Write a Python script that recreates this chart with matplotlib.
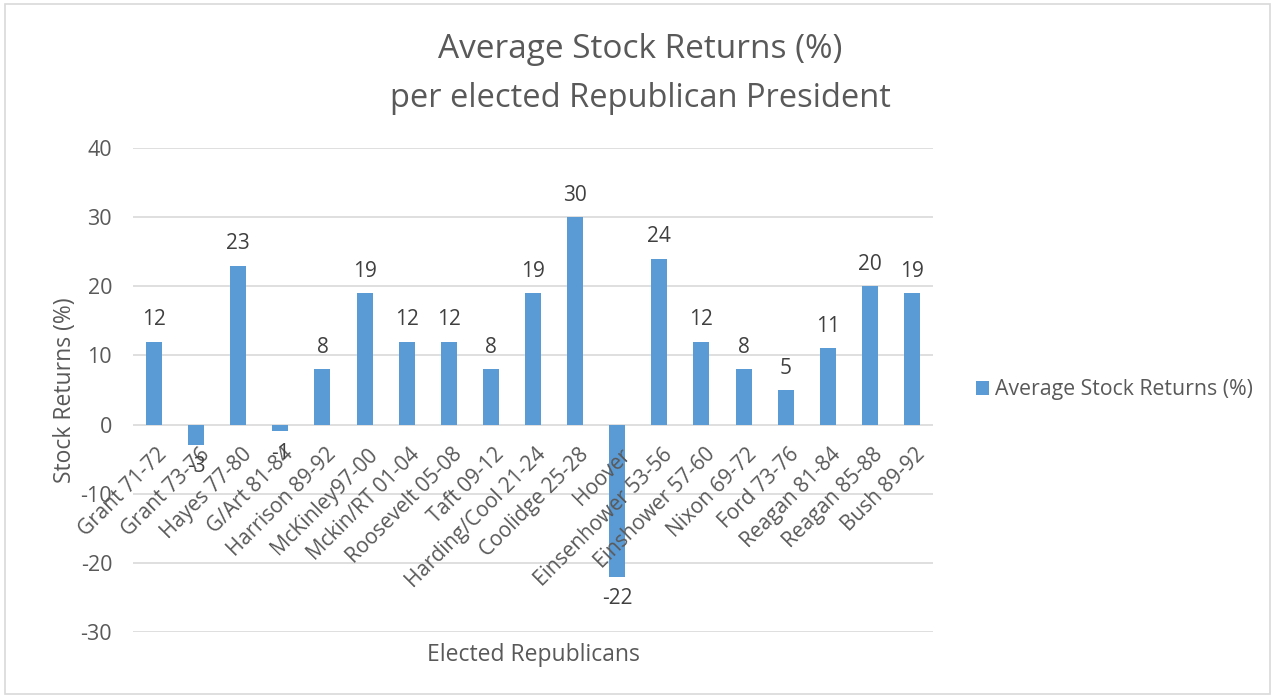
import matplotlib.pyplot as plt
from matplotlib.patches import Rectangle

plt.rcParams['font.family'] = ['Open Sans', 'DejaVu Sans']

presidents = ['Grant 71-72', 'Grant 73-76', 'Hayes 77-80', 'G/Art 81-84',
              'Harrison 89-92', 'McKinley97-00', 'Mckin/RT 01-04',
              'Roosevelt 05-08', 'Taft 09-12', 'Harding/Cool 21-24',
              'Coolidge 25-28', 'Hoover', 'Einsenhower 53-56',
              'Einshower 57-60', 'Nixon 69-72', 'Ford 73-76',
              'Reagan 81-84', 'Reagan 85-88', 'Bush 89-92']
returns = [12, -3, 23, -1, 8, 19, 12, 12, 8, 19, 30, -22, 24, 12, 8, 5, 11, 20, 19]
yticks = [-30, -20, -10, 0, 10, 20, 30, 40]

bar_color = '#5b9bd5'
grid_color = '#d9d9d9'
text_color = '#595959'

fig = plt.figure(figsize=(12.76, 6.98), dpi=100)
fig.patches.append(Rectangle((0.004, 0.006), 0.991, 0.988, transform=fig.transFigure,
                             fill=False, edgecolor='#d9d9d9', lw=1.2))

ax = fig.add_axes([0.1042, 0.0946, 0.627, 0.6934])
x = range(len(presidents))
ax.bar(x, returns, width=0.38, color=bar_color, zorder=3, label='Average Stock Returns (%)')

ax.set_ylim(-30, 40)
ax.set_xlim(-0.5, len(presidents) - 0.5)
ax.set_yticks(yticks)
ax.set_yticklabels([str(t) for t in yticks], fontsize=15.5, color=text_color)
ax.tick_params(axis='y', length=0, pad=15)
ax.set_xticks([])
ax.yaxis.grid(True, color=grid_color, lw=1.2, zorder=0)
for s in ax.spines.values():
    s.set_visible(False)

# category labels hang off the zero line
for i, name in enumerate(presidents):
    ax.annotate(name, (i, 0), xytext=(2, -14), textcoords='offset points',
                rotation=45, rotation_mode='anchor', ha='right', va='top',
                fontsize=15, color=text_color, zorder=4)

# value labels
for i, v in enumerate(returns):
    if v >= 0:
        ax.annotate(str(v), (i, v), xytext=(0, 8), textcoords='offset points',
                    ha='center', va='bottom', fontsize=15, color='#404040', zorder=4)
    else:
        ax.annotate(str(v), (i, v), xytext=(0, -8), textcoords='offset points',
                    ha='center', va='top', fontsize=15, color='#404040', zorder=4)

ax.set_ylabel('Stock Returns (%)', fontsize=16.5, color=text_color, labelpad=2.5)
fig.text(0.418, 0.061, 'Elected Republicans', fontsize=16.5, color=text_color,
         ha='center', va='center')

fig.text(0.502, 0.929, 'Average Stock Returns (%)', fontsize=24, color=text_color,
         ha='center', va='center')
fig.text(0.502, 0.859, 'per elected Republican President', fontsize=23.5, color=text_color,
         ha='center', va='center')

ax.legend(loc='center left', bbox_to_anchor=(1.03, 0.5), frameon=False,
          fontsize=15.3, labelcolor=text_color, handlelength=0.6, handleheight=0.6,
          handletextpad=0.3)

fig.savefig('out.png', dpi=100)
